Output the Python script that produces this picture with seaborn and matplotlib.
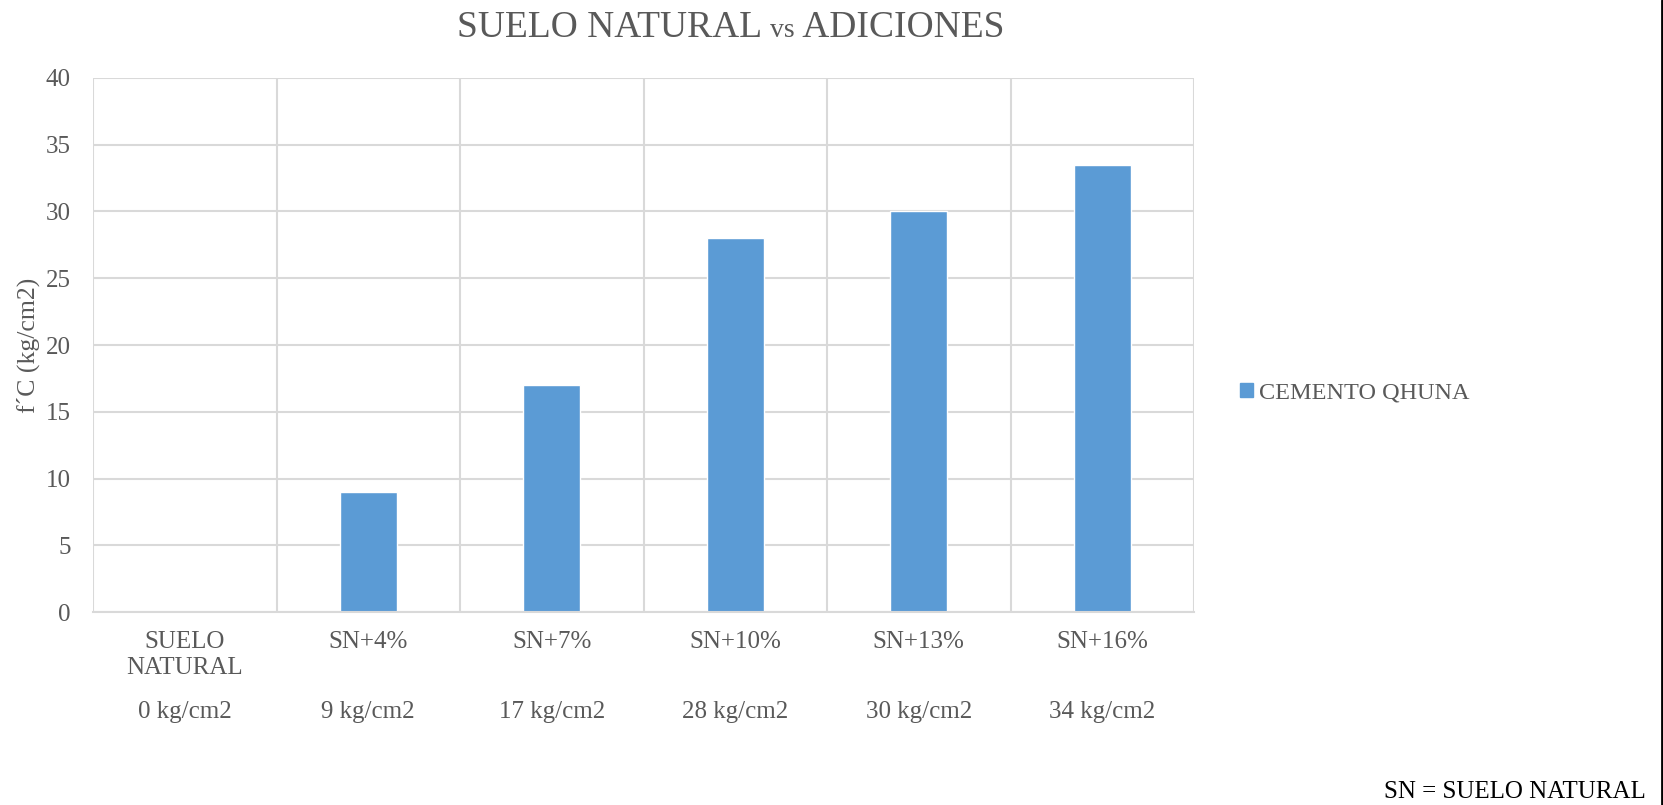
import matplotlib
matplotlib.use("Agg")
import matplotlib.pyplot as plt
import matplotlib.transforms as mtransforms
from matplotlib.lines import Line2D
import seaborn as sns
import pandas as pd
import numpy as np

categories = ["SUELO\nNATURAL", "SN+4%", "SN+7%", "SN+10%", "SN+13%", "SN+16%"]
values = [0, 9, 17, 28, 30, 33.5]
value_labels = ["0 kg/cm2", "9 kg/cm2", "17 kg/cm2", "28 kg/cm2", "30 kg/cm2", "34 kg/cm2"]
series_name = "CEMENTO QHUNA"
y_ticks = [0, 5, 10, 15, 20, 25, 30, 35, 40]

BAR = "#5B9BD5"
GRAY = "#595959"
GRID = "#D9D9D9"

sns.set_theme(style="white")
plt.rcParams["font.family"] = ["Liberation Serif", "DejaVu Serif"]

W, H = 1663, 805
fig = plt.figure(figsize=(W / 100, H / 100), dpi=100)
ax = fig.add_axes([93 / W, 1 - 612 / H, (1194 - 93) / W, (612 - 78) / H])

df = pd.DataFrame({"cat": categories, "val": values})
sns.barplot(data=df, x="cat", y="val", color=BAR, width=0.31, ax=ax, saturation=1)

ax.set_ylim(0, 40)
ax.set_xlim(-0.5, len(categories) - 0.5)
ax.set_yticks(y_ticks)
ax.set_xticks(range(len(categories)))
ax.set_xticklabels(categories, linespacing=1.2)
ax.set_xticks(np.arange(-0.5, len(categories), 1.0), minor=True)
ax.tick_params(axis="both", which="both", length=0, labelsize=18, colors=GRAY)
ax.tick_params(axis="x", which="major", pad=14)
ax.tick_params(axis="y", pad=16)
ax.grid(False)
ax.yaxis.grid(True, color=GRID, linewidth=1.5)
ax.xaxis.grid(True, which="minor", color=GRID, linewidth=1.5)
ax.set_axisbelow(True)
for s in ["top", "right", "left"]:
    ax.spines[s].set_visible(False)
ax.spines["bottom"].set_color(GRID)
ax.spines["bottom"].set_linewidth(1.5)

ax.set_xlabel("")
ax.set_ylabel("f´C (kg/cm2)", fontsize=18.5, color=GRAY, labelpad=4)

trans = mtransforms.blended_transform_factory(ax.transData, ax.transAxes)
for i, lab in enumerate(value_labels):
    ax.text(i, -100 / (612 - 78), lab, transform=trans, ha="center", va="center",
            fontsize=18, color=GRAY)

# legend
handles = [plt.Rectangle((0, 0), 1, 1, color=BAR)]
leg = fig.legend(handles, [series_name], loc="center left",
                 bbox_to_anchor=(1230 / W, 1 - 393 / H), frameon=False,
                 fontsize=17.5, handlelength=0.55, handleheight=0.55,
                 handletextpad=0.25, borderaxespad=0)
for t in leg.get_texts():
    t.set_color(GRAY)

# title composed with smaller "vs"
parts = [("SUELO NATURAL ", 27), ("vs", 20), (" ADICIONES", 27)]
fig.canvas.draw()
renderer = fig.canvas.get_renderer()
texts = []
for s, fs in parts:
    t = fig.text(0, 1 - 37 / H, s, fontsize=fs, color=GRAY, ha="left", va="baseline")
    texts.append(t)
widths = [t.get_window_extent(renderer).width for t in texts]
total = sum(widths)
x0 = 731 - total / 2
for t, w in zip(texts, widths):
    t.set_x(x0 / W)
    x0 += w

fig.text(1646 / W, 1 - 792 / H, "SN = SUELO NATURAL", fontsize=18, color="black",
         ha="right", va="center")
fig.add_artist(Line2D([1661.5 / W, 1661.5 / W], [0, 1], color="black", linewidth=2,
                      transform=fig.transFigure))

fig.savefig("out.png", dpi=100)
